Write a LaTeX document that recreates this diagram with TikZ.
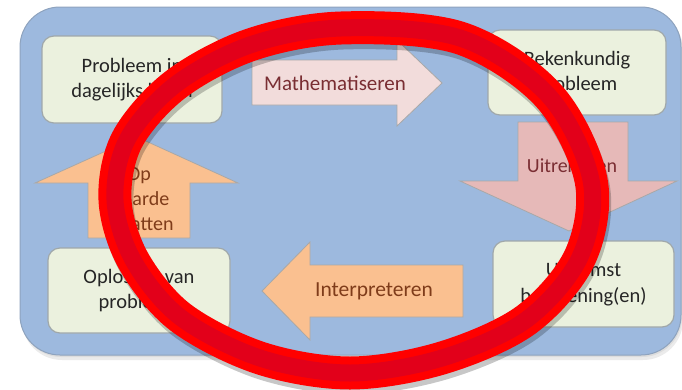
\documentclass[tikz,border=0pt]{standalone}
\usepackage{fontspec}
\setmainfont{Carlito}
\definecolor{panel}{HTML}{9DB9DE}
\definecolor{panelline}{HTML}{8EA3BE}
\definecolor{boxfill}{HTML}{EBF1DE}
\definecolor{boxline}{HTML}{A0A8AA}
\definecolor{pinkA}{HTML}{F2DCDB}
\definecolor{pinkB}{HTML}{E6B9B8}
\definecolor{orangeA}{HTML}{FAC090}
\definecolor{arrline}{HTML}{A8A8A8}
\definecolor{txtdark}{HTML}{262626}
\definecolor{txtred}{HTML}{7A2E33}
\definecolor{txtbrown}{HTML}{7F3C1A}
\definecolor{ringred}{HTML}{FF0000}
\definecolor{ringdark}{HTML}{E2001A}
\begin{document}
\begin{tikzpicture}[x=1pt,y=-1pt,
  stepbox/.style={draw=boxline, fill=boxfill, rounded corners=12pt, line width=1.2pt,
    inner sep=0pt, align=center, text=txtdark, font=\fontsize{20.5}{25.5}\selectfont},
  blockarrow/.style={draw=arrline, line width=0.8pt, line join=miter},
  arrtext/.style={align=center, font=\fontsize{20}{25}\selectfont, inner sep=0pt}]
\useasboundingbox (0,0) rectangle (682,389);
\fill[white] (0,0) rectangle (682,389);
% panel with soft shadow
\fill[black, opacity=0.08, rounded corners=40pt] (22,10) rectangle (683,360);
\fill[black, opacity=0.06, rounded corners=40pt] (21,8) rectangle (682,357);
\draw[fill=panel, draw=panelline, line width=1pt, rounded corners=40pt] (20,7) rectangle (681,355);
% boxes
\node[stepbox, minimum width=180pt, minimum height=87pt] (b1) at (132,79.5) {Probleem in\\dagelijks leven};
\node[stepbox, minimum width=178pt, minimum height=85pt] (b2) at (577,72.5) {Rekenkundig\\probleem};
\node[stepbox, minimum width=181pt, minimum height=86pt] (b3) at (583.5,284) {Uitkomst\\berekening(en)};
\node[stepbox, minimum width=182pt, minimum height=85pt] (b4) at (139,290.5) {Oplossen van\\probleem};
% block arrows
\draw[blockarrow, fill=pinkA] (252,60) -- (397,60) -- (397,40) -- (442,83) -- (397,126) -- (397,105) -- (252,105) -- cycle;
\node[arrtext, text=txtred, font=\fontsize{21}{25}\selectfont] (tmath) at (335,83) {Mathematiseren};
\draw[blockarrow, fill=pinkB] (518,122) -- (628,122) -- (628,181) -- (677,181) -- (569,231) -- (460,181) -- (518,181) -- cycle;
\node[arrtext, text=txtred] (tuit) at (572,166) {Uitrekenen};
\draw[blockarrow, fill=orangeA] (463,265) -- (310,265) -- (310,242) -- (262,291) -- (310,340) -- (310,317) -- (463,317) -- cycle;
\node[arrtext, text=txtbrown, font=\fontsize{21.5}{25}\selectfont] (tint) at (374,291) {Interpreteren};
\draw[blockarrow, fill=orangeA] (88,238) -- (88,183) -- (35,183) -- (137,137) -- (238,183) -- (190,183) -- (190,238) -- cycle;
\node[arrtext, text=txtbrown] (top) at (139,199) {Op\\waarde\\schatten};
% ring shadow
\begin{scope}[shift={(2,5)}]
\draw[black, opacity=0.22, line width=33pt] plot[smooth cycle, tension=0.55] coordinates {(341,28) (460,38) (548,95) (591,180) (580,257) (526,320) (442,358) (350,373) (260,358) (180,317) (133,260) (115,200) (127,140) (175,85) (250,45)};
\end{scope}
% ring
\draw[ringred, line width=33pt] plot[smooth cycle, tension=0.55] coordinates {(341,28) (460,38) (548,95) (591,180) (580,257) (526,320) (442,358) (350,373) (260,358) (180,317) (133,260) (115,200) (127,140) (175,85) (250,45)};
\draw[ringdark, line width=17pt] plot[smooth cycle, tension=0.55] coordinates {(341,28) (460,38) (548,95) (591,180) (580,257) (526,320) (442,358) (350,373) (260,358) (180,317) (133,260) (115,200) (127,140) (175,85) (250,45)};
\end{tikzpicture}
\end{document}
